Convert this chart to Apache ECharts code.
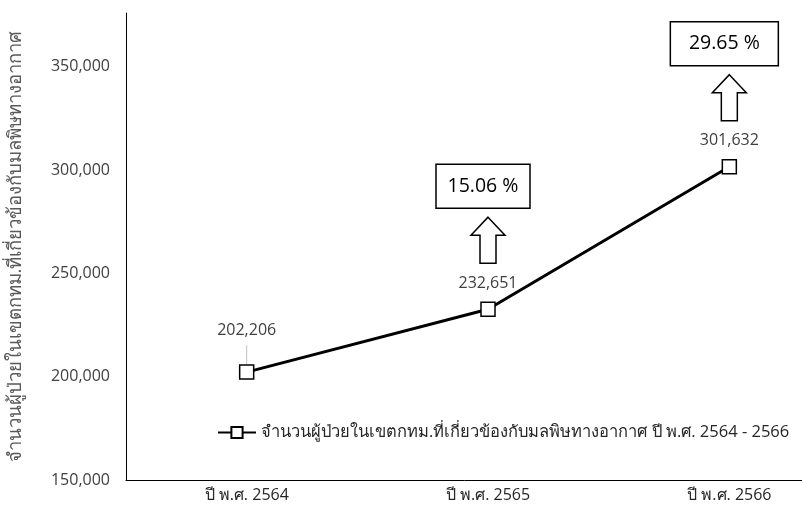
<!DOCTYPE html>
<html>
<head>
<meta charset="utf-8">
<script src="https://cdn.jsdelivr.net/npm/echarts@6/dist/echarts.min.js"></script>
<style>
  html, body { margin: 0; padding: 0; background: #fff; }
  #chart { width: 802px; height: 515px; }
</style>
</head>
<body>
<div id="chart"></div>
<script>
// Air-pollution related patients in Bangkok, B.E. 2564 - 2566
const years = ['ปี พ.ศ. 2564', 'ปี พ.ศ. 2565', 'ปี พ.ศ. 2566'];
const patients = [202206, 232651, 301632];
const growthText = ['15.06 %', '29.65 %'];   // year-on-year change, placed over 2565 and 2566
const yTicks = [150000, 200000, 250000, 300000, 350000];

const seriesName = 'จำนวนผู้ป่วยในเขตกทม.ที่เกี่ยวข้องกับมลพิษทางอากาศ ปี พ.ศ. 2564 - 2566';
const axisName = 'จำนวนผู้ป่วยในเขตกทม.ที่เกี่ยวข้องกับมลพิษทางอากาศ';

const FONT = '"Open Sans", "Noto Sans", sans-serif';
const fmt = v => v.toLocaleString('en-US');

const chart = echarts.init(document.getElementById('chart'), null, { renderer: 'canvas' });

chart.setOption({
  animation: false,
  backgroundColor: '#ffffff',
  textStyle: { fontFamily: FONT },
  // plot area runs past the right edge, so the last category sits near the border
  grid: { left: 126, top: 13, width: 724, height: 467, outerBoundsMode: 'none', containLabel: false },
  legend: {
    data: [seriesName],
    left: 212, top: 419,
    itemWidth: 38, itemHeight: 14, itemGap: 6,
    textStyle: { fontSize: 16.5, color: '#262626', fontFamily: FONT }
  },
  xAxis: {
    type: 'category',
    data: years,
    boundaryGap: true,
    axisLine: { lineStyle: { color: '#000', width: 1 } },
    axisTick: { show: false },
    axisLabel: { color: '#262626', fontSize: 16, margin: 7, fontFamily: FONT },
    splitLine: { show: false }
  },
  yAxis: {
    type: 'value',
    min: yTicks[0],
    max: 376000,
    interval: yTicks[1] - yTicks[0],
    name: axisName,
    nameLocation: 'middle',
    nameRotate: 90,
    nameGap: 101,
    nameTextStyle: { color: '#595959', fontSize: 18.5, fontFamily: FONT },
    axisLine: { show: true, lineStyle: { color: '#000', width: 1 } },
    axisTick: { show: false },
    splitLine: { show: false },
    axisLabel: {
      color: '#404040', fontSize: 16, margin: 16, fontFamily: FONT,
      showMaxLabel: false,
      formatter: v => (yTicks.indexOf(v) >= 0 ? fmt(v) : '')
    }
  },
  series: [{
    name: seriesName,
    type: 'line',
    data: patients.map((v, i) => i === 0 ? { value: v, label: { distance: 26 } } : v),
    symbol: 'rect',
    symbolSize: 14,
    lineStyle: { color: '#000', width: 3 },
    itemStyle: { color: '#fff', borderColor: '#000', borderWidth: 1.5 },
    label: {
      show: true,
      position: 'top',
      distance: 10,
      color: '#404040',
      fontSize: 16,
      fontFamily: FONT,
      formatter: p => fmt(p.value)
    },
    z: 3
  }]
});

// Leader line, arrows and boxed growth figures, anchored to the data points
function drawAnnotations() {
  const pts = patients.map((v, i) => chart.convertToPixel({ seriesIndex: 0 }, [i, v]));
  const els = [];

  els.push({
    type: 'line',
    shape: { x1: pts[0][0], y1: pts[0][1] - 27, x2: pts[0][0], y2: pts[0][1] - 8 },
    style: { stroke: '#bfbfbf', lineWidth: 1 },
    z: 1
  });

  growthText.forEach((txt, k) => {
    const [x, y] = pts[k + 1];
    const tip = y - 92, headBase = y - 74, bottom = y - 46;
    const hw = 17, sw = 8;
    els.push({
      type: 'polygon',
      shape: {
        points: [
          [x, tip], [x + hw, headBase], [x + sw, headBase], [x + sw, bottom],
          [x - sw, bottom], [x - sw, headBase], [x - hw, headBase]
        ]
      },
      style: { fill: '#fff', stroke: '#000', lineWidth: 1.5 }
    });
    const bw = k === 0 ? 94 : 108, bh = 44;
    const bx = x - bw / 2 - 5, by = y - 101 - bh;
    els.push({
      type: 'rect',
      shape: { x: bx, y: by, width: bw, height: bh },
      style: { fill: '#fff', stroke: '#000', lineWidth: 1.5 }
    });
    els.push({
      type: 'text',
      x: bx + bw / 2, y: by + bh / 2,
      style: {
        text: txt, align: 'center', verticalAlign: 'middle',
        fill: '#000', fontSize: 19.5, fontFamily: FONT
      }
    });
  });

  chart.setOption({ graphic: { elements: els } });
}
drawAnnotations();
</script>
</body>
</html>
